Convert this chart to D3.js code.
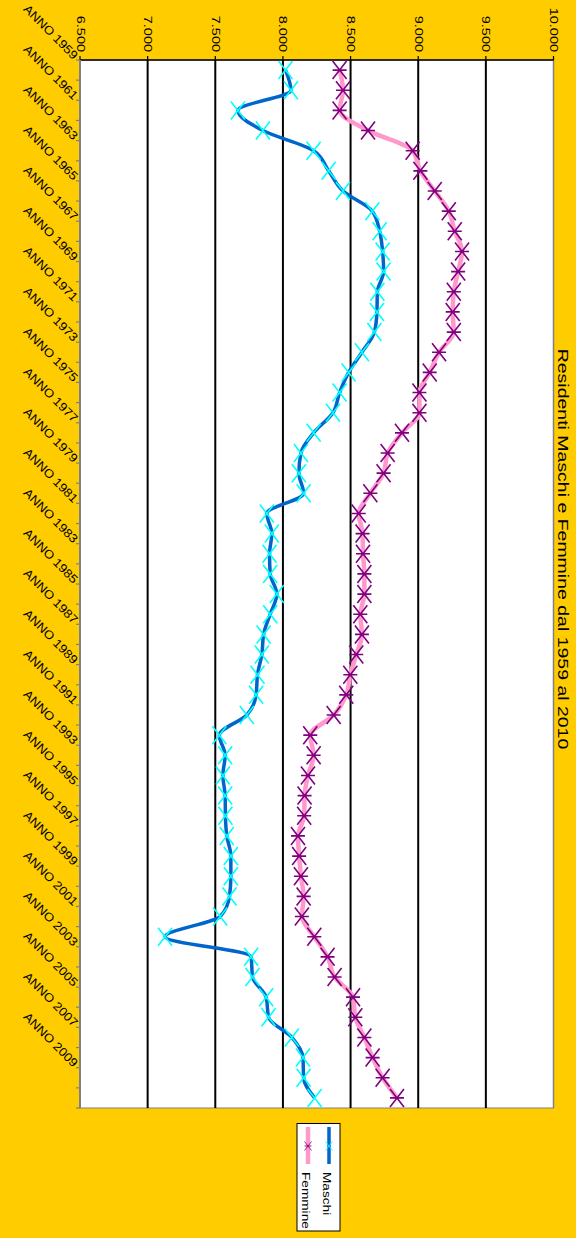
<!DOCTYPE html>
<html><head><meta charset="utf-8">
<script src="https://cdn.jsdelivr.net/npm/d3@7"></script>
<style>html,body{margin:0;padding:0;background:#FFCC00;}svg{display:block;font-family:"Liberation Sans",Arial,sans-serif;}</style>
</head><body>
<script>
const years = d3.range(1959, 2011);
const categories = years.map(y => "ANNO " + y);
const maschi = [8019,8059,7667,7852,8227,8338,8444,8661,8715,8737,8744,8698,8695,8676,8584,8486,8419,8370,8227,8133,8118,8153,7881,7918,7901,7906,7955,7906,7857,7844,7812,7802,7733,7530,7573,7556,7573,7575,7585,7615,7615,7605,7536,7129,7765,7775,7876,7894,8066,8148,8153,8234];
const femmine = [8419,8444,8419,8629,8959,9016,9122,9226,9270,9324,9295,9263,9255,9263,9154,9085,9009,9009,8880,8774,8744,8646,8560,8589,8592,8602,8602,8572,8584,8542,8498,8468,8375,8202,8227,8185,8160,8157,8111,8120,8133,8153,8140,8232,8330,8382,8518,8535,8602,8663,8737,8843];
const valueTicks = [6500,7000,7500,8000,8500,9000,9500,10000];
const valueTickLabels = ["6.500","7.000","7.500","8.000","8.500","9.000","9.500","10.000"];
const seriesNames = ["Maschi","Femmine"];
const title = "Residenti Maschi e Femmine dal 1959 al 2010";

const W = 576, H = 1238;
const svg = d3.select("body").append("svg").attr("width", W).attr("height", H);
svg.append("rect").attr("width", W).attr("height", H).attr("fill", "#FFCC00");

const x = d3.scaleLinear().domain([6500, 10000]).range([80, 553.5]);
const y = d3.scaleBand().domain(categories).range([60, 1108]);
const yc = c => y(c) + y.bandwidth() / 2;

// plot area
svg.append("rect").attr("x", 80).attr("y", 60).attr("width", 473.5).attr("height", 1048)
  .attr("fill", "#fff").attr("stroke", "#808080").attr("stroke-width", 1);

// gridlines
svg.append("g").selectAll("line").data(valueTicks.slice(1, -1)).join("line")
  .attr("x1", d => x(d)).attr("x2", d => x(d)).attr("y1", 60).attr("y2", 1108)
  .attr("stroke", "#000").attr("stroke-width", 2);
svg.append("line").attr("x1", x(10000)).attr("x2", x(10000)).attr("y1", 60).attr("y2", 1108)
  .attr("stroke", "#808080").attr("stroke-width", 1.5);

// value axis (top)
svg.append("line").attr("x1", 80).attr("x2", 553.5).attr("y1", 60).attr("y2", 60).attr("stroke", "#000").attr("stroke-width", 1.5);
svg.append("g").selectAll("line").data(valueTicks).join("line")
  .attr("x1", d => x(d)).attr("x2", d => x(d)).attr("y1", 56).attr("y2", 60)
  .attr("stroke", "#000").attr("stroke-width", 1.2);
svg.append("g").selectAll("text").data(valueTicks).join("text")
  .attr("transform", d => `translate(${x(d) - 3.5},52) rotate(90) scale(1.45,1)`)
  .attr("text-anchor", "end").attr("font-size", 10).attr("fill", "#000")
  .text((d, i) => valueTickLabels[i]);

// category axis (left)
svg.append("line").attr("x1", 80).attr("x2", 80).attr("y1", 60).attr("y2", 1108).attr("stroke", "#808080").attr("stroke-width", 2);
const bounds = d3.range(categories.length + 1).map(i => 60 + i * y.step());
svg.append("g").selectAll("line").data(bounds).join("line")
  .attr("x1", 76).attr("x2", 80).attr("y1", d => d).attr("y2", d => d)
  .attr("stroke", "#808080").attr("stroke-width", 1.2);
svg.append("g").selectAll("text").data(categories.filter((c, i) => i % 2 === 0)).join("text")
  .attr("transform", d => `translate(73,${yc(d) - 10}) rotate(45) scale(1.1,1)`)
  .attr("text-anchor", "end").attr("font-size", 12).attr("fill", "#000")
  .text(d => d);

// lines
const lineGen = vals => d3.line().x(d => x(d)).y((d, i) => yc(categories[i])).curve(d3.curveMonotoneY)(vals);
svg.append("path").attr("d", lineGen(femmine)).attr("fill", "none").attr("stroke", "#FF99CC").attr("stroke-width", 4.5);
svg.append("path").attr("d", lineGen(maschi)).attr("fill", "none").attr("stroke", "#0066CC").attr("stroke-width", 3.5);

// markers
function xMarker(g, cx, cy, color) {
  g.append("path").attr("d", `M${cx-7},${cy-9}L${cx+7},${cy+9}M${cx-7},${cy+9}L${cx+7},${cy-9}`)
    .attr("stroke", color).attr("stroke-width", 1.6).attr("fill", "none");
}
function starMarker(g, cx, cy, color) {
  g.append("path").attr("d", `M${cx-7},${cy-9}L${cx+7},${cy+9}M${cx-7},${cy+9}L${cx+7},${cy-9}M${cx-7},${cy}L${cx+7},${cy}`)
    .attr("stroke", color).attr("stroke-width", 1.6).attr("fill", "none");
}
const mg = svg.append("g");
maschi.forEach((v, i) => xMarker(mg, x(v), yc(categories[i]), "#00FFFF"));
const fg = svg.append("g");
femmine.forEach((v, i) => starMarker(fg, x(v), yc(categories[i]), "#800080"));

// title
svg.append("text").attr("transform", "translate(558,549) rotate(90) scale(1.3,1)")
  .attr("text-anchor", "middle").attr("font-size", 15).attr("fill", "#000").text(title);

// legend
const lg = svg.append("g");
lg.append("rect").attr("x", 297).attr("y", 1123.5).attr("width", 43).attr("height", 107.5)
  .attr("fill", "#fff").attr("stroke", "#000").attr("stroke-width", 1);
const legendItems = [
  {name: seriesNames[0], lx: 329, color: "#0066CC", w: 3.5, mk: xMarker, mc: "#00FFFF"},
  {name: seriesNames[1], lx: 308, color: "#FF99CC", w: 4.5, mk: starMarker, mc: "#800080"}
];
legendItems.forEach(it => {
  lg.append("line").attr("x1", it.lx).attr("x2", it.lx).attr("y1", 1127).attr("y2", 1164)
    .attr("stroke", it.color).attr("stroke-width", it.w);
  const g = lg.append("g");
  it.mk(g, it.lx, 1146, it.mc);
  g.selectAll("path").attr("transform", `translate(${it.lx},1146) scale(0.5) translate(${-it.lx},-1146)`);
  lg.append("text").attr("transform", `translate(${it.lx - 6},1172) rotate(90) scale(1.3,1)`)
    .attr("text-anchor", "start").attr("font-size", 10.5).attr("fill", "#000").text(it.name);
});
</script>
</body></html>
